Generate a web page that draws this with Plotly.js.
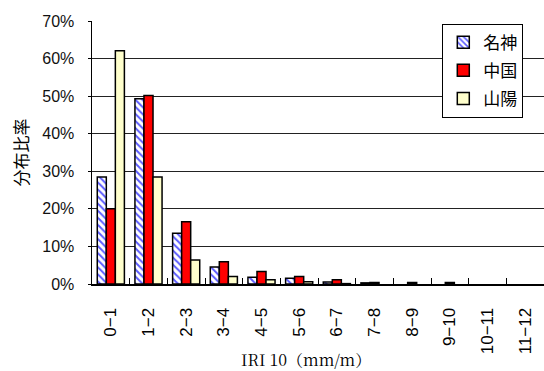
<!DOCTYPE html>
<html>
<head>
<meta charset="utf-8">
<script src="https://cdn.plot.ly/plotly-3.0.1.min.js"></script>
<style>
  html, body { margin: 0; padding: 0; background: #fff; }
  #chart { width: 544px; height: 371px; }
</style>
</head>
<body>
<div id="chart"></div>
<script>
// IRI 10 class intervals (mm/m)
const categories = ['0−1', '1−2', '2−3', '3−4', '4−5', '5−6', '6−7', '7−8', '8−9', '9−10', '10−11', '11−12'];

// Distribution share per expressway (fraction of total length); null = no section in that class
const meishin = [0.285, 0.493, 0.135, 0.045, 0.018, 0.015, 0.005, 0.003, null, null, null, null];
const chugoku = [0.200, 0.502, 0.166, 0.059, 0.033, 0.020, 0.011, 0.004, 0.004, 0.004, null, null];
const sanyo   = [0.621, 0.285, 0.064, 0.020, 0.011, 0.006, 0.001, null, null, null, null, null];

const seriesNames = ['名神', '中国', '山陽'];
const xTitle = 'IRI 10（mm/m）';
const yTitle = '分布比率';

const barLine = { color: '#000', width: 1.5 };

const traces = [
  {
    type: 'bar', name: seriesNames[0], legendgroup: 'a', x: categories, y: meishin,
    marker: {
      color: '#ffffff', line: barLine,
      pattern: { shape: '\\', fgcolor: '#5a5aff', bgcolor: '#ffffff', size: 5, solidity: 0.4 }
    }
  },
  {
    type: 'bar', name: seriesNames[1], legendgroup: 'b', x: categories, y: chugoku,
    marker: { color: '#ff0000', line: barLine }
  },
  {
    type: 'bar', name: seriesNames[2], legendgroup: 'c', x: categories, y: sanyo,
    marker: { color: '#ffffcc', line: barLine }
  }
];

const layout = {
  width: 544, height: 371,
  margin: { l: 92, r: 0, t: 21, b: 87 },
  paper_bgcolor: '#fff', plot_bgcolor: '#fff',
  barmode: 'group', bargap: 0.28, bargroupgap: 0,
  showlegend: true,
  legend: {
    x: 0.775, y: 0.99, xanchor: 'left', yanchor: 'top',
    bgcolor: '#fff', bordercolor: '#000', borderwidth: 1,
    font: { family: 'Noto Sans CJK JP, sans-serif', size: 17, color: '#000' },
    itemwidth: 30, tracegroupgap: 3
  },
  xaxis: {
    type: 'category',
    tickangle: -90,
    ticks: 'inside', tickson: 'boundaries', ticklen: 6, tickcolor: '#000', tickwidth: 1,
    showline: true, linecolor: '#000', linewidth: 2,
    showgrid: false,
    ticklabelstandoff: 15,
    tickfont: { family: 'Arial, Liberation Sans, sans-serif', size: 17, color: '#000' },
    range: [-0.5, 11.5]
  },
  yaxis: {
    range: [0, 0.7], dtick: 0.1, tickformat: '.0%',
    ticks: 'outside', ticklen: 3, tickcolor: '#000',
    showline: true, linecolor: '#000', linewidth: 1.5,
    showgrid: true, gridcolor: '#222', gridwidth: 1,
    zeroline: false,
    ticklabelstandoff: 10,
    tickfont: { family: 'Arial, Liberation Sans, sans-serif', size: 16, color: '#111' },
    title: {
      text: yTitle, standoff: 9,
      font: { family: 'Noto Sans CJK JP, sans-serif', size: 17, color: '#000' }
    }
  },
  annotations: [{
    text: xTitle, xref: 'paper', yref: 'paper',
    x: 0.473, y: -0.288, xanchor: 'center', yanchor: 'middle', showarrow: false,
    font: { family: 'Noto Serif CJK JP, Liberation Serif, DejaVu Serif, serif', size: 16, color: '#000' }
  }]
};

Plotly.newPlot('chart', traces, layout, { displayModeBar: false, staticPlot: true });
</script>
</body>
</html>
